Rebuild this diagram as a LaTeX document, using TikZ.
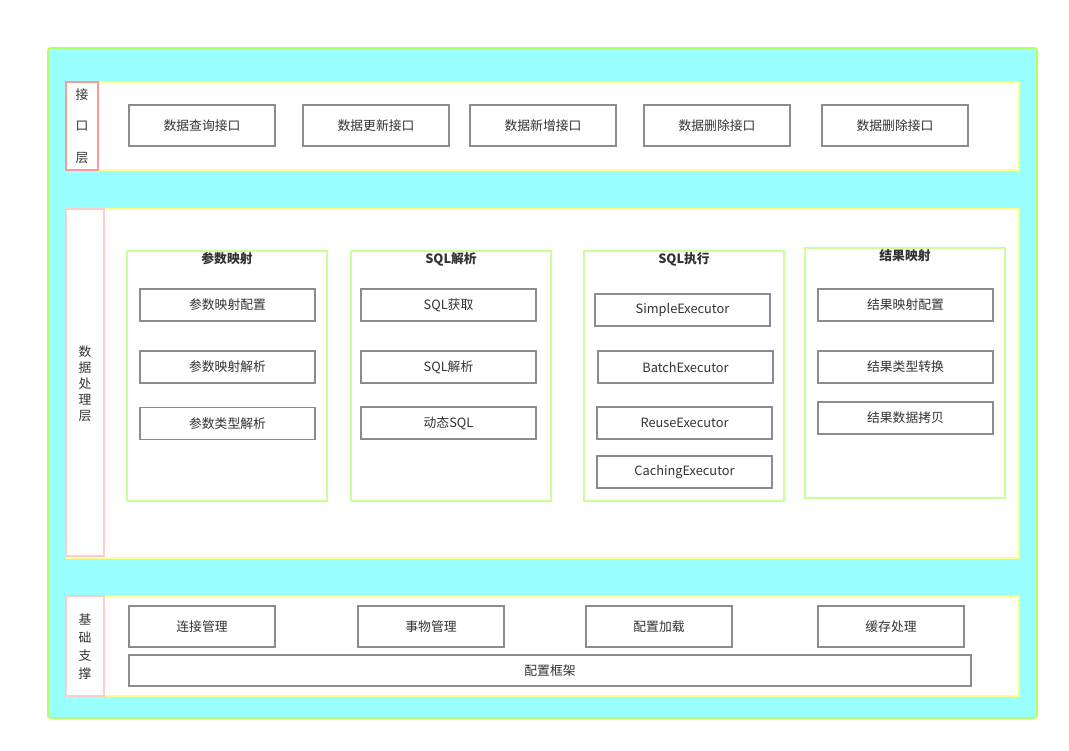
\documentclass[tikz,border=0pt]{standalone}
\usepackage{fontspec}
\setmainfont{Noto Sans CJK SC}
\definecolor{bgcyan}{HTML}{99FFFF}
\definecolor{outerline}{HTML}{B3FF66}
\definecolor{panelline}{HTML}{FFFF88}
\definecolor{tagred}{HTML}{FF9999}
\definecolor{tagpink}{HTML}{FFCCCC}
\definecolor{groupline}{HTML}{CCFF99}
\definecolor{boxline}{HTML}{8C8C8C}
\definecolor{txt}{HTML}{333333}
\begin{document}
\begin{tikzpicture}[x=0.75pt,y=-0.75pt,
		every node/.style={text=txt,font=\fontsize{9.6}{12}\selectfont},
		box/.style={draw=boxline,line width=0.9pt,fill=white,inner sep=0pt,minimum width=109.5pt,minimum height=30.75pt},
		item/.style={box,minimum width=131.25pt,minimum height=24pt},
		panel/.style={draw=panelline,line width=1.5pt,fill=white},
		group/.style={draw=groupline,line width=0.8pt,fill=white},
		title/.style={font=\fontsize{9.6}{12}\selectfont\bfseries}]
			\useasboundingbox (0,0) rectangle (1069,750);
			% background
			\draw[outerline,line width=1.5pt,fill=bgcyan,rounded corners=2pt] (48,48) rectangle (1037,718);
			% interface layer
			\draw[panel] (66,82) rectangle (1019,170);
			\draw[tagred,line width=1.5pt,fill=white] (66,82) rectangle (98,170);
			\node[align=center,font=\fontsize{9.6}{23.6}\selectfont] (ifc) at (82,126) {接\\口\\层};
			\node[box] (q1) at (202,125.5) {数据查询接口};
			\node[box] (q2) at (376,125.5) {数据更新接口};
			\node[box] (q3) at (543,125.5) {数据新增接口};
			\node[box] (q4) at (717,125.5) {数据删除接口};
			\node[box] (q5) at (895,125.5) {数据删除接口};
			% data processing layer
			\draw[panel] (66,209) rectangle (1019,558);
			\draw[tagpink,line width=1.2pt,fill=white] (66,209) rectangle (104,556);
			\node[align=center,font=\fontsize{9.6}{12}\selectfont] (proc) at (85,384) {数\\据\\处\\理\\层};
			\draw[group] (127,251) rectangle (327,501);
			\draw[group] (351,251) rectangle (551,501);
			\draw[group] (584,251) rectangle (784,501);
			\draw[group] (805,248) rectangle (1005,498);
			\node[title] (t1) at (227,259) {参数映射};
			\node[title] (t2) at (451,259) {SQL解析};
			\node[title] (t3) at (684,259) {SQL执行};
			\node[title] (t4) at (905,256) {结果映射};
			\node[item] (p1) at (227.5,305) {参数映射配置};
			\node[item] (p2) at (227.5,367) {参数映射解析};
			\node[item] (p3) at (227.5,423.5) {参数类型解析};
			\node[item] (s1) at (448.5,305) {SQL获取};
			\node[item] (s2) at (448.5,367) {SQL解析};
			\node[item] (s3) at (448.5,423) {动态SQL};
			\node[item] (e1) at (682.5,310) {SimpleExecutor};
			\node[item] (e2) at (685.5,367) {BatchExecutor};
			\node[item] (e3) at (684.5,423) {ReuseExecutor};
			\node[item] (e4) at (684.5,472) {CachingExecutor};
			\node[item] (r1) at (905.5,305) {结果映射配置};
			\node[item] (r2) at (905.5,367) {结果类型转换};
			\node[item] (r3) at (905.5,418) {结果数据拷贝};
			% base layer
			\draw[panel] (66,596) rectangle (1019,696);
			\draw[tagpink,line width=1.2pt,fill=white] (66,596) rectangle (104,696);
			\node[align=center,font=\fontsize{9.6}{13.5}\selectfont] (base) at (85,647) {基\\础\\支\\撑};
			\node[box] (b1) at (202,626.5) {连接管理};
			\node[box] (b2) at (431,626.5) {事物管理};
			\node[box] (b3) at (659,626.5) {配置加载};
			\node[box] (b4) at (891,626.5) {缓存处理};
			\node[box,minimum width=631.5pt,minimum height=23.25pt] (frame) at (550,670.5) {配置框架};
		\end{tikzpicture}
\end{document}
